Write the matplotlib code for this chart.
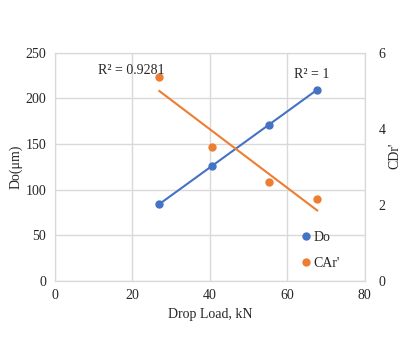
import numpy as np
import matplotlib.pyplot as plt

plt.rcParams['font.family'] = ['Liberation Serif', 'DejaVu Serif']

load = [27.0, 40.5, 55.3, 67.7]
do_um = [84.1, 125.5, 171.3, 209.4]
car = [5.35, 3.51, 2.60, 2.14]

blue = '#4472C4'
orange = '#ED7D31'
grid = '#D9D9D9'
txt = '#262626'

fig = plt.figure(figsize=(4.17, 3.54), dpi=100)
ax = fig.add_axes([0.131, 0.207, 0.744, 0.644])
ax2 = ax.twinx()

# trend lines
xs = np.array([min(load), max(load)])
p1 = np.polyfit(load, do_um, 1)
p2 = np.polyfit(load, car, 1)
ax.plot(xs, np.polyval(p1, xs), color=blue, lw=1.5, zorder=3)
ax2.plot(xs, np.polyval(p2, xs), color=orange, lw=1.5, zorder=3)

h1, = ax.plot(load, do_um, 'o', color=blue, ms=5, zorder=4, label='Do')
h2, = ax2.plot(load, car, 'o', color=orange, ms=5, zorder=4, label="CAr'")

ax.set_xlim(0, 80)
ax.set_ylim(0, 250)
ax2.set_ylim(0, 6)
ax.set_xticks([0, 20, 40, 60, 80])
ax.set_yticks([0, 50, 100, 150, 200, 250])
ax2.set_yticks([0, 2, 4, 6])
ax.grid(True, color=grid, lw=1)
ax.set_axisbelow(True)

for a in (ax, ax2):
    for s in a.spines.values():
        s.set_color(grid)
    a.tick_params(length=0, labelsize=10, colors=txt)
ax.tick_params(axis='x', pad=6)
ax.tick_params(axis='y', pad=6)
ax2.tick_params(axis='y', pad=10)

ax.set_xlabel('Drop Load, kN', fontsize=10, color=txt)
ax.xaxis.set_label_coords(0.5, -0.118)
ax.set_ylabel('Do(μm)', fontsize=10, color=txt)
ax.yaxis.set_label_coords(-0.102, 0.5)
ax2.set_ylabel("CDr'", fontsize=10, color=txt, rotation=90)
ax2.yaxis.set_label_coords(1.075, 0.55)

fig.text(0.314, 0.80, 'R² = 0.9281', fontsize=10, color=txt, ha='center', va='center')
fig.text(0.748, 0.79, 'R² = 1', fontsize=10, color=txt, ha='center', va='center')

fig.legend(handles=[h1, h2], loc='upper left', bbox_to_anchor=(0.708, 0.367),
           frameon=False, fontsize=10, handlelength=0.6, handletextpad=0.2,
           labelspacing=0.9, borderpad=0, labelcolor=txt)

plt.savefig('out.png', dpi=100)
